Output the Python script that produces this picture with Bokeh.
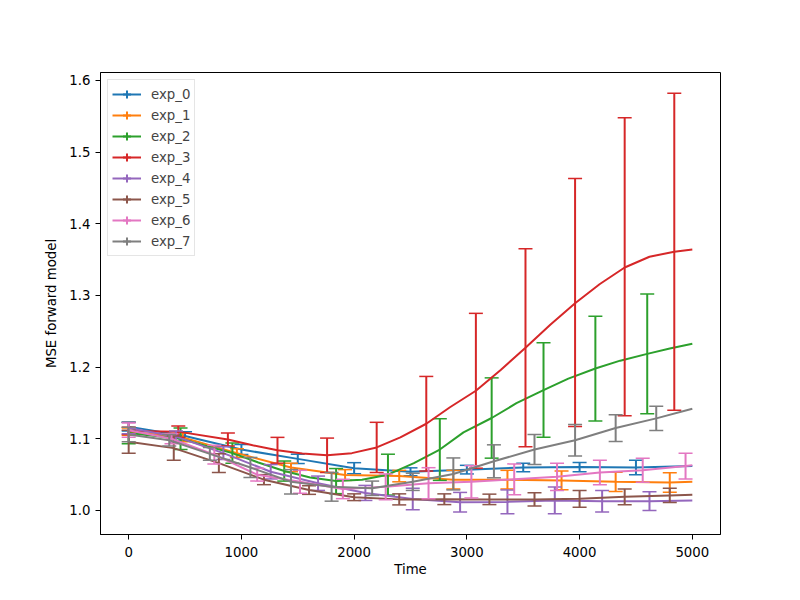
import math
from bokeh.plotting import figure
from bokeh.models import Range1d, FixedTicker, NumeralTickFormatter, Legend, LegendItem
from bokeh.embed import file_html
from bokeh.resources import INLINE

names = ["exp_0", "exp_1", "exp_2", "exp_3", "exp_4", "exp_5", "exp_6", "exp_7"]
colors = ["#1f77b4", "#ff7f0e", "#2ca02c", "#d62728", "#9467bd", "#8c564b", "#e377c2", "#7f7f7f"]

x_ticks = [0, 1000, 2000, 3000, 4000, 5000]
y_ticks = [1.0, 1.1, 1.2, 1.3, 1.4, 1.5, 1.6]

# ---- exp_0 ----
t0 = [0, 500, 1000, 1500, 2000, 2500, 3000, 3500, 4000, 4500]
c0 = [1.117, 1.104, 1.085, 1.072, 1.059, 1.054, 1.057, 1.060, 1.0605, 1.060]
h0 = [0.006, 0.006, 0.007, 0.0065, 0.0077, 0.0055, 0.006, 0.006, 0.0065, 0.010]
lx0 = [0, 500, 1000, 1500, 2000, 2500, 3000, 3500, 4000, 4500, 5000]
ly0 = [1.117, 1.104, 1.085, 1.072, 1.059, 1.054, 1.057, 1.060, 1.0605, 1.060, 1.062]
# ---- exp_1 ----
t1 = [0, 480, 960, 1440, 1920, 2400, 2880, 3360, 3840, 4320, 4800]
c1 = [1.110, 1.102, 1.080, 1.060, 1.0495, 1.048, 1.043, 1.043, 1.042, 1.040, 1.039]
h1 = [0.005, 0.006, 0.006, 0.006, 0.0075, 0.008, 0.013, 0.013, 0.013, 0.0135, 0.0135]
lx1 = [0, 480, 960, 1440, 1920, 2400, 2880, 3360, 3840, 4320, 4800, 5000]
ly1 = [1.110, 1.102, 1.080, 1.060, 1.0495, 1.048, 1.043, 1.043, 1.042, 1.040, 1.039, 1.040]
# ---- exp_2 ----
t2 = [0, 460, 920, 1380, 1840, 2300, 2760, 3220, 3680, 4140, 4600]
c2 = [1.108, 1.100, 1.080, 1.055, 1.041, 1.050, 1.085, 1.129, 1.168, 1.198, 1.2185]
h2 = [0.015, 0.015, 0.014, 0.014, 0.0175, 0.0285, 0.043, 0.056, 0.066, 0.073, 0.0835]
lx2 = [0, 460, 920, 1150, 1380, 1610, 1840, 2070, 2300, 2530, 2760, 2970, 3220, 3440,
       3680, 3900, 4140, 4360, 4600, 4800, 5000]
ly2 = [1.108, 1.100, 1.080, 1.067, 1.055, 1.046, 1.041, 1.043, 1.050, 1.066, 1.085, 1.109,
       1.129, 1.1497, 1.168, 1.184, 1.198, 1.209, 1.2185, 1.226, 1.2325]
# ---- exp_3 ----
t3 = [0, 440, 880, 1320, 1760, 2200, 2640, 3080, 3520, 3960, 4400, 4840]
c3 = [1.111, 1.110, 1.099, 1.084, 1.077, 1.088, 1.121, 1.167, 1.227, 1.290, 1.340, 1.361]
h3 = [0.005, 0.008, 0.009, 0.018, 0.024, 0.035, 0.066, 0.108, 0.138, 0.173, 0.208, 0.221]
lx3 = [0, 440, 880, 1100, 1320, 1540, 1760, 1980, 2200, 2410, 2640, 2850, 3080, 3300,
       3520, 3740, 3960, 4180, 4400, 4620, 4840, 5000]
ly3 = [1.111, 1.110, 1.099, 1.091, 1.084, 1.0795, 1.077, 1.080, 1.088, 1.102, 1.121, 1.144,
       1.167, 1.196, 1.227, 1.259, 1.289, 1.316, 1.339, 1.354, 1.361, 1.364]
# ---- exp_4 ----
t4 = [0, 420, 840, 1260, 1680, 2100, 2520, 2940, 3360, 3780, 4200, 4620]
c4 = [1.115, 1.103, 1.080, 1.054, 1.038, 1.0245, 1.016, 1.0115, 1.012, 1.014, 1.013, 1.013]
h4 = [0.008, 0.008, 0.009, 0.010, 0.010, 0.0105, 0.015, 0.0137, 0.0167, 0.0186, 0.015, 0.013]
lx4 = [0, 420, 840, 1260, 1680, 2100, 2520, 2940, 3360, 3780, 4200, 4620, 5000]
ly4 = [1.115, 1.103, 1.080, 1.054, 1.038, 1.0245, 1.016, 1.0115, 1.012, 1.014, 1.013, 1.013, 1.014]
# ---- exp_5 ----
t5 = [0, 400, 800, 1200, 1600, 2000, 2400, 2800, 3200, 3600, 4000, 4400, 4800]
c5 = [1.096, 1.087, 1.066, 1.043, 1.0285, 1.0185, 1.0155, 1.0157, 1.0155, 1.0154, 1.0163, 1.019, 1.021]
h5 = [0.016, 0.017, 0.013, 0.007, 0.006, 0.0047, 0.0077, 0.0075, 0.0073, 0.0093, 0.0117, 0.011, 0.010]
lx5 = [0, 400, 800, 1200, 1600, 2000, 2400, 2800, 3200, 3600, 4000, 4400, 4800, 5000]
ly5 = [1.096, 1.087, 1.066, 1.043, 1.0285, 1.0185, 1.0155, 1.0157, 1.0155, 1.0154, 1.0163, 1.019, 1.021, 1.022]
# ---- exp_6 ----
t6 = [0, 380, 760, 1140, 1520, 1900, 2280, 2660, 3040, 3420, 3800, 4180, 4560, 4940]
c6 = [1.112, 1.100, 1.078, 1.050, 1.040, 1.030, 1.033, 1.038, 1.040, 1.0435, 1.047, 1.053, 1.056, 1.062]
h6 = [0.010, 0.007, 0.013, 0.009, 0.016, 0.0135, 0.018, 0.0217, 0.0225, 0.0215, 0.019, 0.017, 0.0167, 0.018]
lx6 = [0, 380, 760, 1140, 1520, 1900, 2280, 2660, 3040, 3420, 3800, 4180, 4560, 4940, 5000]
ly6 = [1.112, 1.100, 1.078, 1.050, 1.040, 1.030, 1.033, 1.038, 1.040, 1.0435, 1.047, 1.053, 1.056, 1.062, 1.063]
# ---- exp_7 ----
t7 = [0, 360, 720, 1080, 1440, 1800, 2160, 2520, 2880, 3240, 3600, 3960, 4320, 4680]
c7 = [1.106, 1.098, 1.079, 1.060, 1.040, 1.033, 1.031, 1.040, 1.051, 1.0686, 1.085, 1.098, 1.115, 1.1285]
h7 = [0.010, 0.008, 0.009, 0.014, 0.017, 0.020, 0.010, 0.012, 0.0223, 0.023, 0.021, 0.022, 0.0186, 0.017]
lx7 = [0, 360, 720, 1080, 1440, 1800, 2160, 2520, 2880, 3240, 3600, 3960, 4320, 4680, 5000]
ly7 = [1.106, 1.098, 1.079, 1.060, 1.040, 1.033, 1.031, 1.040, 1.051, 1.0686, 1.085, 1.098, 1.115, 1.1285, 1.142]

series = [(t0, c0, h0, lx0, ly0), (t1, c1, h1, lx1, ly1), (t2, c2, h2, lx2, ly2),
          (t3, c3, h3, lx3, ly3), (t4, c4, h4, lx4, ly4), (t5, c5, h5, lx5, ly5),
          (t6, c6, h6, lx6, ly6), (t7, c7, h7, lx7, ly7)]

FONT = "DejaVu Sans"

p = figure(width=784, height=584, output_backend="svg", toolbar_location=None,
           x_range=Range1d(-250, 5250), y_range=Range1d(0.9665, 1.611),
           min_border_left=100, min_border_right=64, min_border_top=72, min_border_bottom=50)
p.background_fill_color = "white"
p.border_fill_color = "white"
p.outline_line_color = "black"
p.outline_line_width = 1
p.grid.visible = False

p.xaxis.ticker = FixedTicker(ticks=x_ticks)
p.yaxis.ticker = FixedTicker(ticks=y_ticks)
p.yaxis.formatter = NumeralTickFormatter(format="0.0")
p.xaxis.axis_label = "Time"
p.yaxis.axis_label = "MSE forward model"
for ax in (p.xaxis, p.yaxis):
    ax.minor_tick_line_color = None
    ax.major_tick_in = 0
    ax.major_tick_out = 5
    ax.major_tick_line_color = "black"
    ax.axis_line_color = "black"
    ax.major_label_text_font = FONT
    ax.major_label_text_font_size = "13.3px"
    ax.major_label_text_color = "black"
    ax.axis_label_text_font = FONT
    ax.axis_label_text_font_size = "13.3px"
    ax.axis_label_text_font_style = "normal"
    ax.axis_label_text_color = "black"
p.xaxis.major_label_standoff = 7
p.xaxis.axis_label_standoff = 2
p.yaxis.major_label_standoff = 5
p.yaxis.axis_label_standoff = 7

items = []
for name, col, (t, c, h, lx, ly) in zip(names, colors, series):
    lr = p.line(lx, ly, line_color=col, line_width=2)
    lo = [ci - hi for ci, hi in zip(c, h)]
    up = [ci + hi for ci, hi in zip(c, h)]
    p.segment(x0=t, y0=lo, x1=t, y1=up, line_color=col, line_width=2)
    p.scatter(x=t + t, y=lo + up, marker="dash", size=14, line_color=col, line_width=1.5)
    mk = p.scatter(x=[math.nan], y=[math.nan], marker="cross", line_color=col, line_width=2)
    items.append(LegendItem(label=name, renderers=[lr, mk]))

legend = Legend(items=items, location="top_left", margin=7, padding=4, spacing=1,
                glyph_width=29, glyph_height=20, label_height=20, label_standoff=10,
                label_text_font=FONT, label_text_font_size="13.3px",
                border_line_color="#cccccc", border_line_width=1,
                background_fill_color="white", background_fill_alpha=0.8)
p.add_layout(legend, "center")

open("out.html", "w").write(file_html(p, INLINE))
